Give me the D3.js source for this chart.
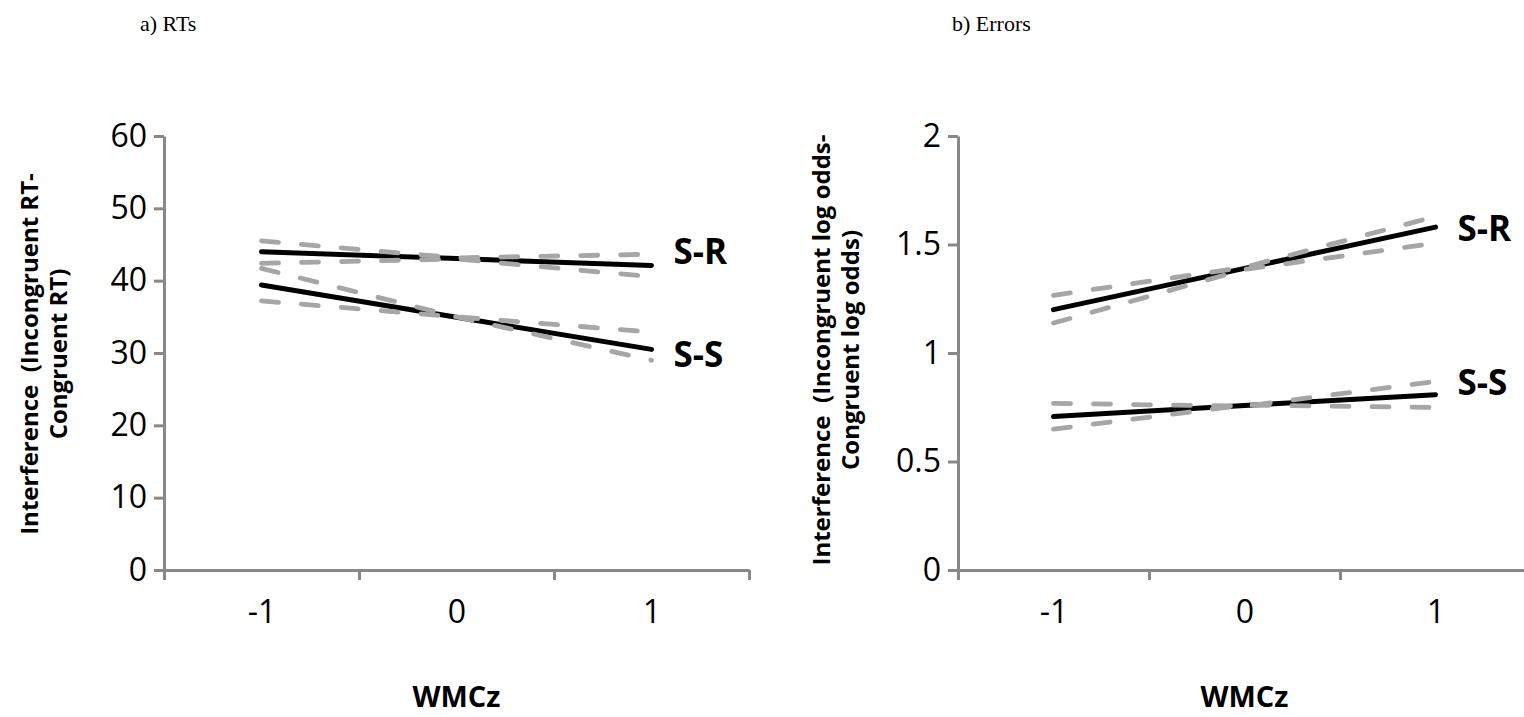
<!DOCTYPE html>
<html>
<head>
<meta charset="utf-8">
<script src="https://cdn.jsdelivr.net/npm/d3@7"></script>
<style>
  body { margin: 0; background: #fff; }
  svg { display: block; }
</style>
</head>
<body>
<div id="chart"></div>
<script>
// Categories on the x axis (WMCz)
const categories = [-1, 0, 1];

// a) RTs: interference values at WMCz = -1, 0, 1
const rtTicks = [0, 10, 20, 30, 40, 50, 60];
const rtSR      = [44.0, 43.05, 42.1];
const rtSRUpper = [45.5, 43.15, 43.65];
const rtSRLower = [42.4, 43.0, 40.55];
const rtSS      = [39.4, 34.95, 30.5];
const rtSSUpper = [41.7, 35.0, 29.0];
const rtSSLower = [37.2, 35.0, 32.9];

// b) Errors: interference in log odds at WMCz = -1, 0, 1
const errTicks = [0, 0.5, 1, 1.5, 2];
const errSR      = [1.20, 1.39, 1.58];
const errSRUpper = [1.266, 1.395, 1.629];
const errSRLower = [1.138, 1.385, 1.506];
const errSS      = [0.707, 0.758, 0.808];
const errSSUpper = [0.768, 0.755, 0.869];
const errSSLower = [0.649, 0.76, 0.749];

const width = 1524;
const height = 717;
const axisColor = "#888888";
const bandColor = "#a6a6a6";
const sansFont = "'Open Sans', 'Noto Sans', sans-serif";

const svg = d3.create("svg")
  .attr("width", width)
  .attr("height", height)
  .attr("viewBox", [0, 0, width, height]);

d3.select("#chart").append(() => svg.node());

svg.append("rect").attr("width", width).attr("height", height).attr("fill", "#fff");

function drawPanel(p) {
  const g = svg.append("g");

  // x: one band per category, ticks sit on the band edges
  const x = d3.scaleLinear()
    .domain([-1.5, 1.5])
    .range([p.left, p.left + p.band * 3]);

  const y = d3.scaleLinear()
    .domain([0, d3.max(p.ticks)])
    .range([p.bottom, p.top]);

  // Panel title
  g.append("text")
    .attr("x", p.titleX)
    .attr("y", 31)
    .attr("font-family", "'Liberation Serif', 'Times New Roman', serif")
    .attr("font-size", 22)
    .text(p.title);

  // y axis
  g.append("g")
    .attr("transform", `translate(${p.left},0)`)
    .call(d3.axisLeft(y).tickValues(p.ticks).tickSize(10).tickPadding(7)
      .tickSizeOuter(0).tickFormat(d => String(d)))
    .call(a => a.selectAll("line, path").attr("stroke", axisColor).attr("stroke-width", 3))
    .call(a => a.selectAll("text")
      .attr("font-family", sansFont).attr("font-size", 32).attr("fill", "#000"));

  // x axis line with ticks on category edges
  g.append("g")
    .attr("transform", `translate(0,${p.bottom})`)
    .call(d3.axisBottom(x).tickValues([-1.5, -0.5, 0.5, 1.5]).tickSize(10)
      .tickSizeOuter(0).tickFormat(""))
    .call(a => a.selectAll("line, path").attr("stroke", axisColor).attr("stroke-width", 3));

  // x category labels
  g.append("g")
    .attr("transform", `translate(0,${p.bottom})`)
    .call(d3.axisBottom(x).tickValues(categories).tickSize(0).tickPadding(30)
      .tickFormat(d => String(d)))
    .call(a => a.select(".domain").remove())
    .call(a => a.selectAll("text")
      .attr("font-family", sansFont).attr("font-size", 32).attr("fill", "#000"));

  // x axis title
  g.append("text")
    .attr("x", x(0))
    .attr("y", 707)
    .attr("text-anchor", "middle")
    .attr("font-family", sansFont)
    .attr("font-weight", "bold")
    .attr("font-size", 29)
    .text("WMCz");

  // y axis title, two lines
  const yt = g.append("text")
    .attr("transform", `translate(${p.left - p.yTitleOffset},${p.yTitleY}) rotate(-90)`)
    .attr("text-anchor", "middle")
    .attr("font-family", sansFont)
    .attr("font-weight", "bold")
    .attr("font-size", 24)
    .attr("style", "white-space: pre");
  p.yTitle.forEach((t, i) => {
    yt.append("tspan").attr("x", 0).attr("y", i * 29).text(t);
  });

  const line = d3.line()
    .x((d, i) => x(categories[i]))
    .y(d => y(d));

  // solid regression lines
  p.series.forEach(s => {
    g.append("path")
      .attr("d", line(s.values))
      .attr("fill", "none")
      .attr("stroke", "#000")
      .attr("stroke-width", 5)
      .attr("stroke-linecap", "round");
  });

  // dashed confidence bands on top
  p.series.forEach(s => {
    [s.upper, s.lower].forEach(b => {
      g.append("path")
        .attr("d", line(b))
        .attr("fill", "none")
        .attr("stroke", bandColor)
        .attr("stroke-width", 4.8)
        .attr("stroke-linecap", "round")
        .attr("stroke-dasharray", "17 23");
    });
  });

  // series labels at the right end of the solid lines
  p.series.forEach(s => {
    g.append("text")
      .attr("x", x(1) + 22)
      .attr("y", y(s.values[2]) + s.dy)
      .attr("dy", "0.35em")
      .attr("font-family", sansFont)
      .attr("font-weight", "bold")
      .attr("font-size", 35)
      .text(s.name);
  });
}

drawPanel({
  title: "a) RTs",
  titleX: 140,
  left: 164,
  band: 195,
  top: 136,
  bottom: 570,
  ticks: rtTicks,
  yTitle: ["Interference  (Incongruent RT-", "Congruent RT)"],
  yTitleOffset: 126,
  yTitleY: 354,
  series: [
    { name: "S-R", values: rtSR, upper: rtSRUpper, lower: rtSRLower, dy: -14 },
    { name: "S-S", values: rtSS, upper: rtSSUpper, lower: rtSSLower, dy: 5 }
  ]
});

drawPanel({
  title: "b) Errors",
  titleX: 952,
  left: 958,
  band: 191,
  top: 136,
  bottom: 570,
  ticks: errTicks,
  yTitle: ["Interference  (Incongruent log odds-", "Congruent log odds)"],
  yTitleOffset: 128,
  yTitleY: 350,
  series: [
    { name: "S-R", values: errSR, upper: errSRUpper, lower: errSRLower, dy: 2 },
    { name: "S-S", values: errSS, upper: errSSUpper, lower: errSSLower, dy: -12 }
  ]
});
</script>
</body>
</html>
